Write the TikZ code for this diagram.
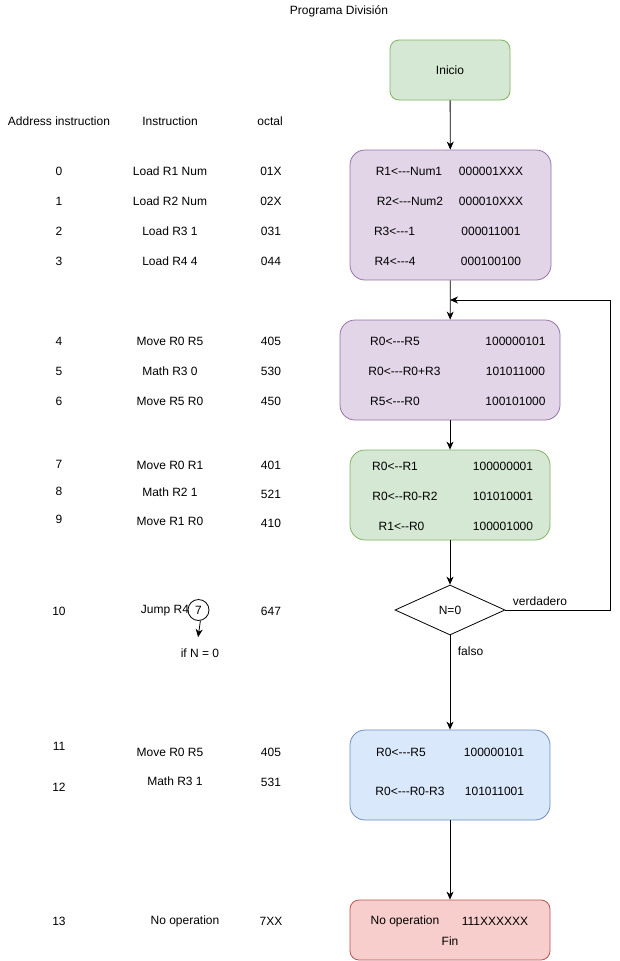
\documentclass[tikz,border=0pt]{standalone}
\usepackage{fontspec}
\setmainfont{Liberation Sans}
\usetikzlibrary{arrows.meta,shapes.geometric}
\definecolor{gfill}{HTML}{D5E8D4}
\definecolor{gline}{HTML}{82B366}
\definecolor{pfill}{HTML}{E1D5E7}
\definecolor{pline}{HTML}{9673A6}
\definecolor{bfill}{HTML}{DAE8FC}
\definecolor{bline}{HTML}{6C8EBF}
\definecolor{rfill}{HTML}{F8CECC}
\definecolor{rline}{HTML}{B85450}
\newcommand{\lthree}{<{-}{-}{-}}
\newcommand{\ltwo}{<{-}{-}}
\tikzset{
  blk/.style={draw,line width=0.8pt,rounded corners=15pt,inner sep=0pt},
  gbox/.style={blk,draw=gline,fill=gfill},
  pbox/.style={blk,draw=pline,fill=pfill},
  bbox/.style={blk,draw=bline,fill=bfill},
  rbox/.style={blk,draw=rline,fill=rfill},
  dec/.style={draw,diamond,line width=0.8pt,inner sep=0pt,minimum width=110pt,minimum height=50pt},
  lbl/.style={inner sep=0pt},
  ar/.style={-{Stealth[length=8pt,width=7pt,inset=2.5pt]},line width=0.8pt},
}
\begin{document}
\begin{tikzpicture}[x=1pt,y=-1pt,font=\fontsize{12}{14}\selectfont]
  \useasboundingbox (0,0) rectangle (619,961);
  \node[lbl] (title) at (339,11) {Programa División};

  % table on the left
  \node[lbl] (hadr) at (59,121) {Address instruction};
  \node[lbl] (hins) at (170,121) {Instruction};
  \node[lbl] (hoct) at (270,121) {octal};
  \foreach \ya/\a/\xi/\yi/\i/\yo/\o in {
      171/0/170/171/Load R1 Num/171/01X, 201/1/170/201/Load R2 Num/201/02X,
      231/2/170/231/Load R3 1/231/031, 261/3/170/261/Load R4 4/261/044,
      341/4/170/341/Move R0 R5/341/405, 371/5/170/371/Math R3 0/371/530,
      401/6/170/401/Move R5 R0/401/450, 464/7/170/465/Move R0 R1/465/401,
      491/8/170/492/Math R2 1/494/521, 519/9/170/521/Move R1 R0/523/410,
      611/10/165/611/Jump R4/611/647, 746/11/170/752/Move R0 R5/752/405,
      787/12/175/781/Math R3 1/782/531, 921/13/185/921/No operation/921/7XX}{
    \node[lbl] (a\a) at (59,\ya) {\a};
    \node[lbl] (i\a) at (\xi,\yi) {\i};
    \node[lbl] (o\a) at (271,\yo) {\o};
  }
  \node[draw,circle,line width=0.8pt,inner sep=0pt,minimum size=21pt] (cnum) at (198.5,610) {7};
  \node (ifn) at (200,653) {if N = 0};
  \draw[ar,shorten >=8pt] (cnum.-80) -- ([xshift=-3pt]ifn.north);

  % flow chart
  \node[gbox,rounded corners=9pt,minimum width=120pt,minimum height=60pt] (ini) at (450,70) {Inicio};
  \node[pbox,minimum width=201pt,minimum height=130pt] (b1) at (450.5,215) {};
  \node[lbl] (b1l1) at (409,171) {R1\lthree Num1};
  \node[lbl] (b1l2) at (410,201) {R2\lthree Num2};
  \node[lbl] (b1l3) at (394.5,231) {R3\lthree 1};
  \node[lbl] (b1l4) at (395,261) {R4\lthree 4};
  \node[lbl] (b1r1) at (491,171) {000001XXX};
  \node[lbl] (b1r2) at (491,201) {000010XXX};
  \node[lbl] (b1r3) at (491,231) {000011001};
  \node[lbl] (b1r4) at (491,261) {000100100};

  \node[pbox,minimum width=220pt,minimum height=100pt] (b2) at (450,370) {};
  \node[lbl] (b2l1) at (395,341) {R0\lthree R5};
  \node[lbl] (b2l2) at (404.5,371) {R0\lthree R0+R3};
  \node[lbl] (b2l3) at (395,401) {R5\lthree R0};
  \node[lbl] (b2r1) at (515.5,341) {100000101};
  \node[lbl] (b2r2) at (515.5,371) {101011000};
  \node[lbl] (b2r3) at (515.5,401) {100101000};

  \node[gbox,minimum width=200pt,minimum height=90pt] (b3) at (450,495) {};
  \node[lbl] (b3l1) at (395,466) {R0\ltwo R1};
  \node[lbl] (b3l2) at (405,496) {R0\ltwo R0-R2};
  \node[lbl] (b3l3) at (401.5,526) {R1\ltwo R0};
  \node[lbl] (b3r1) at (503,466) {100000001};
  \node[lbl] (b3r2) at (503,496) {101010001};
  \node[lbl] (b3r3) at (503,526) {100001000};

  \node[dec] (cond) at (450,610) {N=0};
  \node[lbl] (vlab) at (540,601) {verdadero};
  \node[lbl] (flab) at (470.5,651) {falso};

  \node[bbox,minimum width=200pt,minimum height=90pt] (b4) at (450,775) {};
  \node[lbl] (b4l1) at (401,752) {R0\lthree R5};
  \node[lbl] (b4l2) at (410,791) {R0\lthree R0-R3};
  \node[lbl] (b4r1) at (494,752) {100000101};
  \node[lbl] (b4r2) at (494.5,791) {101011001};

  \node[rbox,rounded corners=9pt,minimum width=200pt,minimum height=60pt] (b5) at (450,930) {};
  \node[lbl] (b5l1) at (405,921) {No operation};
  \node[lbl] (b5r1) at (495,921) {111XXXXXX};
  \node[lbl] (b5fin) at (450,941) {Fin};

  % connectors
  \coordinate (jn) at (450,300);
  \coordinate (rc) at (610,300);
  \draw[ar] (ini) -- (b1);
  \draw[ar] (b1) -- (b2);
  \draw[ar] (b2) -- (b3);
  \draw[ar] (b3) -- (cond);
  \draw[ar] (cond) -- (b4);
  \draw[ar] (b4) -- (b5);
  \draw[ar] (cond.east) -| (rc) -- (jn);
\end{tikzpicture}
\end{document}
